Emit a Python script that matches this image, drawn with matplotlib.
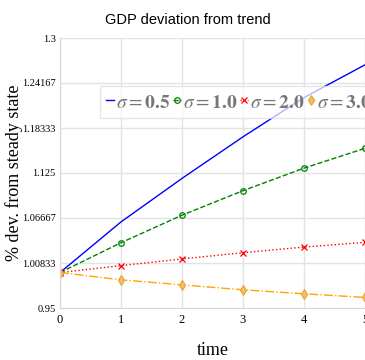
import numpy as np
import matplotlib.pyplot as plt

plt.rcParams['mathtext.fontset'] = 'stix'

t = [0, 1, 2, 3, 4, 5]
gdp_s05 = [0.996, 1.0616, 1.1180, 1.1719, 1.2228, 1.2652]
gdp_s10 = [0.996, 1.0346, 1.0703, 1.1021, 1.1313, 1.1570]
gdp_s20 = [0.996, 1.0049, 1.0136, 1.0217, 1.0290, 1.0351]
gdp_s30 = [0.996, 0.9865, 0.9800, 0.9736, 0.9684, 0.9637]
yticks = [0.95, 1.00833, 1.06667, 1.125, 1.18333, 1.24167, 1.3]
labels = [r'$\sigma=\mathbf{0.5}$', r'$\sigma=\mathbf{1.0}$',
          r'$\sigma=\mathbf{2.0}$', r'$\sigma=\mathbf{3.0}$']

fig = plt.figure(figsize=(3.65, 3.6), dpi=100)
ax = fig.add_axes([60/365, 1 - 308/360, 305/365, 270/360])

ax.plot(t, gdp_s05, color='blue', lw=1, label=labels[0])
ax.plot(t, gdp_s10, color='green', lw=1, ls='--', marker='o', ms=4,
        mfc='none', mew=0.9, label=labels[1])
ax.plot(t, gdp_s20, color='red', lw=1, ls=':', marker='x', ms=5,
        mew=0.9, label=labels[2])
ax.plot(t, gdp_s30, color='orange', lw=1, ls='-.', marker='d', ms=5,
        mfc='#f2c062', mec='#e8a33c', mew=0.8, label=labels[3])

ax.set_xlim(0, 5)
ax.set_ylim(0.95, 1.3)
ax.set_xticks(t)
ax.set_yticks(yticks)
ax.set_yticklabels([f'{v:g}' for v in yticks])
ax.grid(True, color='#e3e3e3', lw=1)
for s in ['top', 'right']:
    ax.spines[s].set_visible(False)
for s in ['left', 'bottom']:
    ax.spines[s].set_color('#d8d8d8')
ax.tick_params(length=0, pad=3, labelsize=7.5, labelfontfamily='Liberation Serif')
ax.tick_params(axis='x', labelsize=9, pad=4)

ax.set_xlabel('time', fontfamily='Liberation Serif', fontsize=13)
ax.xaxis.set_label_coords(0.5, -0.125)
ax.set_ylabel('% dev. from steady state', fontfamily='Liberation Serif',
              fontsize=13)
ax.yaxis.set_label_coords(-0.122, 0.5)
fig.suptitle('GDP deviation from trend', x=0.515, y=0.965,
             fontfamily='Liberation Sans', fontsize=10.5)

leg = ax.legend(loc='upper left', bbox_to_anchor=(0.131, 0.822), ncol=4,
                fontsize=14, handlelength=0.4, handleheight=1.1,
                handletextpad=0.1, columnspacing=0.15, borderpad=0.3,
                borderaxespad=0, fancybox=False, framealpha=0.7,
                edgecolor='#dddddd')
for txt in leg.get_texts():
    txt.set_color('#777777')

plt.savefig('out.png', dpi=100)
